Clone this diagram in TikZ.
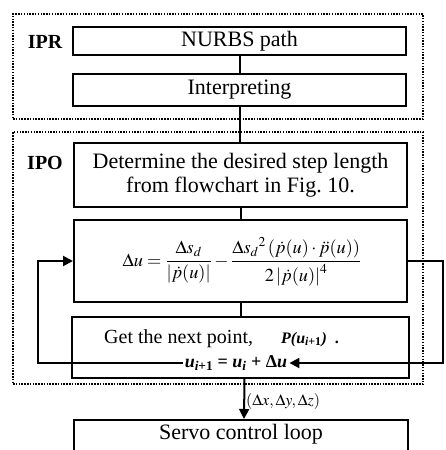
\documentclass[tikz,border=0pt]{standalone}
\usepackage{mathptmx}
\usepackage[no-math]{fontspec}
\setmainfont{Liberation Serif}
\usetikzlibrary{arrows.meta}
\begin{document}
\begin{tikzpicture}[x=1pt,y=-1pt,
  box/.style={draw, line width=2pt, inner sep=0pt, align=center},
  dotbox/.style={draw, line width=1.6pt, dash pattern=on 1.5pt off 1.3pt, inner sep=0pt},
  conn/.style={line width=2pt},
  arr/.style={line width=2pt, -{Triangle[length=10pt,width=10pt]}},
  big/.style={font=\fontsize{22}{24}\selectfont},
  mid/.style={font=\fontsize{20}{22}\selectfont},
  lab/.style={font=\bfseries\fontsize{20}{22}\selectfont}]
\useasboundingbox (0,0) rectangle (446,450);
% dotted groups
\node[dotbox, minimum width=410pt, minimum height=105pt] (ipr) at (218,66.5) {};
\node[dotbox, minimum width=410pt, minimum height=252pt] (ipo) at (218,258) {};
\node[lab] (iprl) at (45,42) {IPR};
\node[lab] (ipol) at (45,163) {IPO};
% boxes
\node[box, big, minimum width=333pt, minimum height=28pt] (nurbs) at (239.5,41) {NURBS path};
\node[box, big, minimum width=333pt, minimum height=32pt] (interp) at (239.5,90) {Interpreting};
\node[box, big, minimum width=333pt, minimum height=64pt] (det) at (240.5,175) {Determine the desired step length\\from flowchart in Fig.~10.};
\node[box, minimum width=333pt, minimum height=82pt] (form) at (240.5,261) {};
\node[inner sep=0pt, font=\fontsize{18.3}{21}\selectfont] (formt) at (242,262)
  {$\displaystyle \Delta u=\frac{\Delta s_d}{\left|\dot p(u)\right|}-\frac{{\Delta s_d}^{2}\left(\dot p(u)\cdot\ddot p(u)\right)}{2\left|\dot p(u)\right|^{4}}$};
\node[box, minimum width=337pt, minimum height=61pt] (getn) at (240.5,347.5) {};
\node[box, minimum width=334pt, minimum height=40pt] (servo) at (241,440) {};
\node[big, inner sep=0pt] (servot) at (241,434) {Servo control loop};
% texts inside get-next box
\node[mid, anchor=base west, inner sep=0pt] (gt) at (104,343) {Get the next point,};
\node[anchor=base west, inner sep=0pt, font=\bfseries\itshape\fontsize{16}{18}\selectfont] (pt) at (281,343) {P(u\textsubscript{i\upshape +1})\upshape\ \ .};
\node[inner sep=2pt, font=\bfseries\itshape\fontsize{18}{20}\selectfont] (upd) at (236,363) {u\textsubscript{i\upshape +1}\upshape\ = \itshape u\textsubscript{i}\upshape\ + Δ\itshape u};
% connectors
\draw[conn] (nurbs.south) -- (nurbs.south |- interp.north);
\draw[conn] (interp.south) -- (interp.south |- det.north);
\draw[conn] (det.south) -- (det.south |- form.north);
\draw[conn] (form.south) -- (form.south |- getn.north);
\coordinate (lc) at (38,0);
\coordinate (rc) at (443,0);
\draw[arr] (upd.west) -| (lc |- form.west) -- (form.west);
\draw[arr] (form.east) -| (rc |- upd.east) -- (upd.east);
\draw[arr] ([xshift=4pt]getn.south) -- ([xshift=3pt]servo.north);
\node[anchor=west, inner sep=0pt, font=\fontsize{16}{18}\selectfont] (dl) at (246,401) {$\left(\Delta x,\Delta y,\Delta z\right)$};
\end{tikzpicture}
\end{document}
